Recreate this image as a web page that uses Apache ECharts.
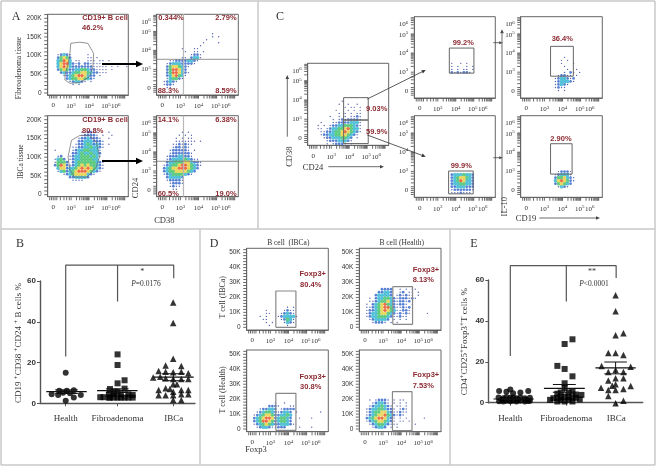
<!DOCTYPE html>
<html>
<head>
<meta charset="utf-8">
<title>B cell and Treg flow panels</title>
<script src="https://cdn.jsdelivr.net/npm/echarts@6/dist/echarts.min.js"></script>
<style>
    html, body { margin: 0; padding: 0; background: #fff; }
    #chart { width: 656px; height: 466px; }
</style>
</head>
<body>
<div id="chart"></div>
<script>
// density on a 27 x 27 cell raster, top row first
// . empty, 1 sparse, 2 blue, 3 cyan, 4 green, 5 yellow, 6 red
const densA1 = ['','','','','','','','','','','','','',
    '...12321.....1', '...24542.....11.1', '...34653.11..111.11.1', '...35663212.22111111.1.1', '...35653222222211111.1.1..1',
    '...24542233443221111.1', '....2322344554322111', '.....12345665322.1', '......2344554321', '.......123321.1', '........1.1'];
const densA2 = ['','','','','','','..................1','..................1.1','................1','...............1....1','..............1',
    '........1...11', '.........1..11.1', '...........1221', '........11.2331', '....1122223321', '...1233322221', '...24554321', '...2466532',
    '...24665321', '...2356431', '...134421', '..12321', '..1221', '...11'];
const densA3 = ['','','','','...............1', '...........1.2211...1', '...........122221.1..1', '..........12232221..1', '..........223332221',
    '.........1223432321.1', '........11223343321', '..1.....1233443331', '........2234334332', '...12..12334443431', '..1342.1233444433',
    '..14442.23444444321', '..24652123454544321', '...3552334565654321', '...134234566654321', '.....12345555321', '.......2233332', '........1111'];
const densA4 = ['','','','','','........1.1', '.......1.1.1', '......1.1.11', '......1111111.1', '.....1121211', '.....122121', '....1222221.1',
    '....12222221', '...122233221', '...12333343211', '...233444553221', '..1234456654321', '..234556665432', '..23445555432', '..1234444321',
    '...233332', '...122221', '....12221', '....1211', '.....11'];
const densC1 = ['','','','','','','','','','','','','...........1', '..........1..1..1', '............1.11.1', '.........1...1.1.1', '..........1.1.1.11',
    '.......1..1.1.1121', '........1.12122221', '....1...1122223331', '...1.1.12233444321', '...11.123344564331', '....11223445654321',
    '....1223344554321', '.....1223334432.1', '......122233321', '......1.12221.1'];
const densC2 = ['','','','','','','','','','','','','','','','............1..1.1', '............1.1..1.1', '............1.1.11.1', '............2121221'];
const densC3 = ['','','','','','','','','','','','','','','','','','','', '............23334332', '............23455432', '............23465332',
    '............23344332', '............22333222', '............12222221', '............1112111'];
const densC4 = ['','','','','','','','','','','','','','..............1', '.............1.1', '.............1...1', '..............1', '...............1..1',
    '..............1.21.1', '............12211.1', '...........1233212', '...........1233321', '...........12321', '...........1211', '............1.1'];
const densC5 = ['','','','','','','','','','','','','','','','','','', '............12221', '...........123331', '...........2445321', '...........3565421',
    '...........245432', '............1321'];
const densD1 = ['','','','','','','','','','','','','','','','','','','', '.............1.1', '......1.....1211', '......11...12321', '....1.1...1233331',
    '.....11....12431', '......1.1...1321', '.......1.....1'];
const densD2 = ['','','','','','','','','','','','','', '.......2222..1.1.11', '......22332..12.11.1', '.....233332.121211.1', '...1.23344321222121',
    '...11234453212212', '..1.234564321221.1', '..112345664211212', '..122345654311221', '..123345543212121.....1', '..12334443211211',
    '...1233332.1.1.1', '....12221.1.1'];
const densD3 = ['','','','','','','','','','','','','','','','','', '.........1..1', '.......2221...11', '....122332.12222', '...123443212332.1.......1',
    '..1234554223343', '..2345665234432..1...1', '..2346654234432', '..12345432233321', '...1233211222....1...1'];
const densD4 = ['','','','','','','','','','','','','','','','', '...1.12221.1.11', '....123321.1.1.1', '...12334321.11.1', '..1233443221.121', '..12344553211211',
    '..1234556432121', '..2345665321.1.1.....1', '..1234554321.11.1', '...1234432111.....1', '....12332.1.1'];

// gates and quadrant lines, in axis units: [xLeft, yLow, xRight, yHigh]
const gateA1 = [[2.98,133],[3.48,136],[3.94,133],[4.26,106],[4.22,70],[4.04,44],[3.48,28],[2.93,26],[2.65,35],[2.69,57],[2.83,75],[2.93,106],[2.98,133]];
const gateA3 = [[3.02,145],[3.48,158],[4.04,158],[4.41,141],[4.59,101],[4.41,74],[3.89,47],[3.2,47],[2.93,65],[2.83,101],[3.02,145]];
const rectC1a = [3.69,2.96,5.06,4.12];
const rectC1b = [3.69,1.74,5.06,2.96];
const rectC2 = [3.64,2.95,5.01,4.26];
const rectC3 = [3.60,1.83,4.97,3.02];
const rectC4 = [3.34,2.79,4.60,4.35];
const rectC5 = [3.34,2.86,4.53,4.44];
const rectD1 = [3.30,0,4.41,24.3];
const rectD2 = [3.54,2,4.63,27.2];
const rectD3 = [3.30,-0.9,4.41,23.9];
const rectD4 = [3.52,-1.1,4.60,25];
const quadA2 = [3.17,3.53];
const quadA4 = [3.17,3.51];

// biexponential tick stops and their labels
const biexStops = [2, 3, 4, 4.95, 5.5];
const biexLabels = ['0', '10{s|3}', '10{s|4}', '10{s|5}', '10{s|6}'];

// scatter panels: group names and per group points as [position, percent]
const groupNames = ['Health', 'Fibroadenoma', 'IBCa'];
const groupStopsB = [1, 1.96, 3];
const groupStopsE = [1, 2, 2.89];

const healthB = [[1,15],[1,1.3],[0.74,4.4],[0.86,4.1],[0.88,6.2],[1.02,6.2],[1.15,6.4],[1.08,4.9],[1.28,4.1],[1.15,2.8],[0.95,5.2]];
const fibroB = [[1.96,24],[1.96,18.8],[1.96,9.8],[2.09,11.3],[2.09,7.2],[1.82,7],[1.96,5.7],[1.89,5.7],[1.80,4.4],[1.89,4.4],[2.02,4.4],[2.16,4.4],[2.24,4.1],
    [1.64,3],[1.70,3],[1.80,2.8],[1.82,2.8],[1.89,2.8],[1.96,2.8],[2.02,2.8],[2.09,2.8],[2.16,2.8],[2.24,2.8]];
const ibcaB = [[2.99,49.4],[2.99,39.4],[2.99,21.9],[2.85,18.5],[3.14,18.3],[2.72,15.9],[3.27,14.7],[2.85,15.5],[2.99,15.2],[3.14,15.5],[2.75,13],[2.62,12.6],
    [2.85,12.3],[2.99,11.9],[3.14,11.9],[3.27,11.9],[2.99,9.3],[3.06,9.3],[2.93,7],[2.85,7.4],[2.72,6.5],[2.99,5.7],[3.14,6.5],[3.27,6.5],[2.72,4],[2.85,4],
    [2.99,4],[3.14,4.4],[3.27,4.4],[2.99,1.6],[3.14,1.6]];
const meanB = [[0.64,1.39,5.7,0.9],[1.58,2.33,6.2,0.9],[2.62,3.37,12.8,1.7]];  // xFrom, xTo, mean, sem

const healthE = [[0.80,5.7],[1,6.5],[0.93,5.4],[1.18,5],[1.32,5.7],[1.05,4.6],[0.79,2.5],[0.875,2.2],[0.93,2.8],[1,2.4],[1.05,2.6],[1.11,2.2],[1.18,2.6],[1.26,2.2],
    [1.35,2.4],[0.80,0.7],[0.875,0.6],[0.93,1],[1,0.7],[1.05,0.9],[1.11,0.6],[1.18,1],[1.26,0.6],[1.32,0.8],[1.35,1],[0.85,1.5],[0.97,1.5],[1.14,1.5],[1.28,1.5]];
const fibroE = [[2.11,31],[1.97,28.7],[1.84,18],[1.97,16.5],[2.11,12.9],[1.97,9.5],[2.11,5.4],[1.97,7.3],[1.90,5],[2.04,5],[1.84,4.4],[2.17,4],[2.27,3.8],[1.77,2.2],
    [1.84,2.4],[1.90,2.6],[1.97,3],[2.04,2.8],[2.11,2.4],[2.17,2.4],[1.71,1.4],[1.84,0.6],[1.97,0.6],[2.11,0.6],[1.90,1.4],[2.04,1.5],[2.24,1.6]];
const ibcaE = [[2.88,52.5],[2.88,44.7],[2.88,33],[3.02,34],[2.75,24.3],[2.88,24.3],[3.02,23.3],[2.63,18],[3.15,17.6],[2.88,16],[2.75,15],[3.02,15],[2.88,12],[3.02,12],
    [2.75,10.8],[2.88,9],[3.15,8.2],[2.62,7.3],[2.82,8.3],[2.75,6.2],[2.88,6.2],[3.02,6.7],[2.75,3.3],[3.02,1],[2.88,-0.3]];
const meanE = [[0.70,1.42,1.8,0.3],[1.60,2.33,7,1.9],[2.52,3.24,17,2.9]];

const bracketB = [[1,23],[1,67.8],[3.0,67.8],[3.0,61.3]];
const bracketMidB = [[1.96,67.8],[1.96,50]];
const bracketE = [[1,22.8],[1,67],[2.89,67],[2.89,61]];
const bracketMidE = [[2,67],[2,49.5]];

const levelColors = ['', '#2b3f9e', '#2f62c8', '#2fb4d0', '#3fc068', '#e6d040', '#e84a20'];
const levelSizes = [0, 1.4, 2.7, 3.7, 3.7, 3.7, 3.2];
const darkRed = '#8c2a32';
const serif = '"Liberation Serif", serif';
const sans = '"Liberation Sans", sans-serif';

const xRange = [1.69, 6.2];
const biexRange = [1.65, 5.9];
const bigK = [-5.4, 210.7, [0, 50, 100, 150, 200]];
const smallK = [-1.8, 52.9, [0, 10, 20, 30, 40, 50]];

const plots = [
    { box: [47.7, 14.3, 80.6, 80.7], dens: densA1, yScale: bigK, gate: gateA1 },
    { box: [156.7, 14.3, 81.6, 80.7], dens: densA2, quad: quadA2 },
    { box: [47.7, 115.7, 80.6, 81], dens: densA3, yScale: bigK, gate: gateA3 },
    { box: [156.7, 115.7, 81.6, 81], dens: densA4, quad: quadA4 },
    { box: [307.7, 63.3, 81, 82], dens: densC1, rects: [rectC1a, rectC1b] },
    { box: [414.3, 16.7, 81, 81.3], dens: densC2, rects: [rectC2] },
    { box: [414.3, 115.7, 81, 81.6], dens: densC3, rects: [rectC3] },
    { box: [520.7, 16.7, 81.6, 81.3], dens: densC4, rects: [rectC4] },
    { box: [520.7, 115.7, 81.6, 81.6], dens: densC5, rects: [rectC5] },
    { box: [246.7, 248.3, 81.6, 81.7], dens: densD1, yScale: smallK, rects: [rectD1] },
    { box: [359.3, 248.3, 81.7, 81.7], dens: densD2, yScale: smallK, rects: [rectD2] },
    { box: [246.7, 350, 81.6, 81.7], dens: densD3, yScale: smallK, rects: [rectD3] },
    { box: [359.3, 350, 81.7, 81.7], dens: densD4, yScale: smallK, rects: [rectD4] }
];

// FlowJo style tick marks, decades get their log minor ticks
const biexTicks = [1.8, 1.9, 2, 2.1, 2.2, 2.4, 2.6, 2.75, 2.9];
[3, 4, 5].forEach(d => {
    [1, 2, 3, 4, 5, 6, 7, 8, 9].forEach(k => biexTicks.push(d + Math.log10(k)));
});
biexTicks.push(6);

const grids = [];
const xAxes = [];
const yAxes = [];
const series = [];

const tickText = { fontFamily: serif, fontSize: 7, color: '#333', rich: { s: { fontSize: 5, verticalAlign: 'bottom', padding: [0, 0, 4, 0], fontFamily: serif, color: '#333' } } };
const frameLine = { show: true, onZero: false, lineStyle: { color: '#666', width: 1 } };

const biexFormat = v => biexLabels[biexStops.indexOf(v)] || '';

plots.forEach((p, i) => {
    grids.push({ left: p.box[0], top: p.box[1], width: p.box[2], height: p.box[3], show: true, borderColor: '#666', borderWidth: 1, backgroundColor: '#fff' });
    xAxes.push({
        gridIndex: i, type: 'value', min: xRange[0], max: xRange[1], splitLine: { show: false }, axisLine: frameLine,
        axisTick: { show: false },
        axisLabel: Object.assign({ margin: 7, customValues: biexStops, formatter: biexFormat, hideOverlap: false }, tickText)
    });
    let yMin = biexRange[0], yMax = biexRange[1], yTicks = biexTicks;
    let yLabel = Object.assign({ margin: 6, customValues: biexStops, formatter: biexFormat, hideOverlap: false }, tickText);
    if (p.yScale) {
        yMin = p.yScale[0];
        yMax = p.yScale[1];
        yTicks = [];
        const step = yMax > 100 ? 10 : 2;
        for (let t = 0; t <= yMax; t += step) yTicks.push(t);
        yLabel = { margin: 6, customValues: p.yScale[2], formatter: v => v ? v + 'K' : '0', fontFamily: sans, fontSize: 6.5, color: '#333', hideOverlap: false };
    }
    yAxes.push({
        gridIndex: i, type: 'value', min: yMin, max: yMax, splitLine: { show: false }, axisLine: frameLine,
        axisTick: { show: false },
        axisLabel: yLabel
    });

    // the dense axis ticks as thin marks just outside the frame
    series.push({
        type: 'scatter', xAxisIndex: i, yAxisIndex: i, silent: true, clip: false, symbol: 'rect',
        symbolSize: [1, 3], symbolOffset: [0, 2], itemStyle: { color: '#444' },
        data: biexTicks.filter(t => t >= xRange[0] && t <= xRange[1]).map(t => [t, yMin])
    });
    series.push({
        type: 'scatter', xAxisIndex: i, yAxisIndex: i, silent: true, clip: false, symbol: 'rect',
        symbolSize: [3, 1], symbolOffset: [-2, 0], itemStyle: { color: '#444' },
        data: yTicks.filter(t => t >= yMin && t <= yMax).map(t => [xRange[0], t])
    });

    // density raster -> scatter points in axis units
    const pts = [];
    p.dens.forEach((row, r) => {
        for (let c = 0; c < row.length; c++) {
            const lvl = Number(row[c]);
            if (!lvl) continue;
            pts.push([xRange[0] + (c + 0.5) / 27 * (xRange[1] - xRange[0]), yMax - (r + 0.5) / 27 * (yMax - yMin), lvl]);
        }
    });
    pts.sort((a, b) => a[2] - b[2]);
    series.push({
        type: 'scatter', xAxisIndex: i, yAxisIndex: i, data: pts, symbol: 'circle', silent: true,
        symbolSize: d => levelSizes[d[2]],
        itemStyle: { color: o => levelColors[o.data[2]] }
    });

    const outline = (data, color, width) => series.push({
        type: 'line', xAxisIndex: i, yAxisIndex: i, data: data, symbol: 'none', silent: true,
        lineStyle: { color: color, width: width }
    });
    if (p.gate) outline(p.gate, '#666', 0.7);
    if (p.rects) p.rects.forEach(b => {
        outline([[b[0], b[1]], [b[2], b[1]], [b[2], b[3]], [b[0], b[3]], [b[0], b[1]]], p.yScale ? '#888' : '#666', p.yScale ? 1.2 : 1);
    });
    if (p.quad) {
        outline([[p.quad[0], yMin], [p.quad[0], yMax]], '#b8b8b8', 1.2);
        outline([[xRange[0], p.quad[1]], [xRange[1], p.quad[1]]], '#777', 0.8);
    }
});

// the two dot plot panels
const addDotPanel = (box, xExt, stops, groups, means, bracket, bracketMid) => {
    const i = grids.length;
    grids.push({ left: box[0], top: box[1], width: box[2], height: box[3], show: false });
    xAxes.push({
        gridIndex: i, type: 'value', min: xExt[0], max: xExt[1], splitLine: { show: false },
        axisLine: { onZero: false, lineStyle: { color: '#555', width: 1.4 } },
        axisTick: { show: true, length: 3, lineStyle: { color: '#555' }, customValues: stops },
        axisLabel: { margin: 11, customValues: stops, formatter: v => groupNames[stops.indexOf(v)], fontFamily: serif, fontSize: 9, color: '#333', hideOverlap: false }
    });
    yAxes.push({
        gridIndex: i, type: 'value', min: 0, max: 60, interval: 20, splitLine: { show: false },
        axisLine: { show: true, lineStyle: { color: '#555', width: 1.4 } },
        axisTick: { show: true, length: 3, lineStyle: { color: '#555' } },
        axisLabel: { margin: 4, fontFamily: sans, fontWeight: 'bold', fontSize: 8, color: '#333' }
    });
    const shapes = ['circle', 'rect', 'triangle'];
    const sizes = [6, 6, 6.5];
    groups.forEach((g, k) => {
        series.push({ type: 'scatter', xAxisIndex: i, yAxisIndex: i, data: g, symbol: shapes[k], symbolSize: sizes[k], clip: false, silent: true, itemStyle: { color: '#000' } });
    });
    const stroke = (data, color, width) => series.push({
        type: 'line', xAxisIndex: i, yAxisIndex: i, data: data, symbol: 'none', clip: false, silent: true, lineStyle: { color: color, width: width }
    });
    means.forEach(m => {
        const mid = (m[0] + m[1]) / 2, cap = (m[1] - m[0]) * 0.28;
        stroke([[m[0], m[2]], [m[1], m[2]]], '#111', 1.2);
        stroke([[mid, m[2] - m[3]], [mid, m[2] + m[3]]], '#111', 1);
        stroke([[mid - cap, m[2] + m[3]], [mid + cap, m[2] + m[3]]], '#111', 1);
        stroke([[mid - cap, m[2] - m[3]], [mid + cap, m[2] - m[3]]], '#111', 1);
    });
    stroke(bracket, '#555', 1.2);
    stroke(bracketMid, '#555', 1.2);
};
addDotPanel([40, 281, 155, 122.3], [0.524, 3.394], groupStopsB, [healthB, fibroB, ibcaB], meanB, bracketB, bracketMidB);
addDotPanel([488.3, 280, 154.4, 122.7], [0.607, 3.364], groupStopsE, [healthE, fibroE, ibcaE], meanE, bracketE, bracketMidE);

// captions, gate percentages, frame and arrows
const graphics = [];
const label = (text, x, y, font, fill, opts) => graphics.push(Object.assign({
    type: 'text', x: x, y: y, z: 50, silent: true,
    style: Object.assign({ text: text, font: font, fill: fill, align: 'center', verticalAlign: 'middle' }, (opts && opts.style) || {})
}, opts && opts.rotation ? { rotation: opts.rotation } : {}));
const red = (text, x, y) => label(text, x, y, 'bold 7.5px ' + sans, darkRed);
const cap = (text, x, y, size) => label(text, x, y, (size || 8.5) + 'px ' + serif, '#333');
const capUp = (text, x, y, size, rich) => label(text, x, y, (size || 8.5) + 'px ' + serif, '#333', { rotation: Math.PI / 2, style: rich ? { rich: rich } : {} });

[['A', 16, 17], ['C', 280, 17], ['B', 20, 244], ['D', 214, 244], ['E', 474, 244]].forEach(t => cap(t[0], t[1], t[2], 12));

[['CD19+ B cell', 105, 18], ['46.2%', 92.7, 28.3], ['CD19+ B cell', 105, 120.3], ['80.8%', 92.7, 130.7],
 ['0.344%', 171, 18.3], ['2.79%', 226, 18.3], ['88.3%', 168.3, 91.3], ['8.59%', 226, 91.3],
 ['14.1%', 168.3, 120.3], ['6.38%', 226, 120.3], ['60.5%', 168.3, 193.7], ['19.0%', 226, 193.7],
 ['9.03%', 376.7, 109.3], ['59.9%', 376.7, 132], ['99.2%', 463.3, 42.7], ['99.9%', 461.3, 166], ['36.4%', 562.3, 39.3], ['2.90%', 561, 138.7],
 ['Foxp3+', 312.7, 274.3], ['80.4%', 310.7, 285], ['Foxp3+', 426, 270], ['8.13%', 423.3, 280],
 ['Foxp3+', 312.7, 376.7], ['30.8%', 310.7, 387], ['Foxp3+', 426, 375.3], ['7.53%', 423.3, 385.7]].forEach(t => red(t[0], t[1], t[2]));

capUp('Fibroadenoma tissue', 19, 68, 7.5);
capUp('IBCa tissue', 20.7, 161.7, 7.5);
capUp('CD24', 136, 188);
cap('CD38', 164.3, 220.7);
capUp('CD38', 289.3, 156.7);
cap('CD24', 313, 167.7);
capUp('IL-10', 504.3, 206.7);
cap('CD19', 526, 219);
cap('B cell  (IBCa)', 288.3, 243.3, 7.5);
cap('B cell (Health)', 401.7, 243.3, 7.5);
capUp('T cell (IBCa)', 222.7, 297.3, 8);
capUp('T cell (Health)', 222.7, 390, 8);
cap('Foxp3', 256, 450);

const supRich = { s: { font: '7px ' + serif, fill: '#333', verticalAlign: 'bottom', padding: [0, 0, 5, 0] } };
capUp('CD19 {s|+}CD38 {s|+}CD24 {s|+} B cells %', 18.3, 343, 9, supRich);
capUp('CD4{s|+}CD25{s|+}Foxp3{s|+}T cells %', 465, 341.7, 9, supRich);
cap('*', 142.3, 272.3, 8);
cap('**', 592, 272.3, 8);
const pRich = { i: { font: 'italic 7.5px ' + serif, fill: '#333' } };
label('{i|P}=0.0176', 146, 283.7, '7.5px ' + serif, '#333', { style: { rich: pRich } });
label('{i|P}<0.0001', 594, 283.7, '7.5px ' + serif, '#333', { style: { rich: pRich } });

const rule = (x1, y1, x2, y2) => graphics.push({ type: 'line', z: 1, silent: true, shape: { x1: x1, y1: y1, x2: x2, y2: y2 }, style: { stroke: '#c9c9c9', lineWidth: 1.5 } });
rule(1, 1, 655, 1); rule(1, 1, 1, 465); rule(655, 1, 655, 465); rule(1, 465, 655, 465);
rule(1, 229, 655, 229); rule(258, 1, 258, 229); rule(200, 229, 200, 465); rule(450, 229, 450, 465);

const arrow = (x1, y1, x2, y2, width, head, color) => {
    const a = Math.atan2(y2 - y1, x2 - x1);
    const bx = x2 - Math.cos(a) * head, by = y2 - Math.sin(a) * head;
    const nx = -Math.sin(a) * head * 0.45, ny = Math.cos(a) * head * 0.45;
    graphics.push({ type: 'line', z: 40, silent: true, shape: { x1: x1, y1: y1, x2: bx, y2: by }, style: { stroke: color, lineWidth: width } });
    graphics.push({ type: 'polygon', z: 40, silent: true, shape: { points: [[x2, y2], [bx + nx, by + ny], [bx - nx, by - ny]] }, style: { fill: color } });
};
arrow(102, 64, 143, 64, 2, 7, '#000');
arrow(102, 161, 143, 161, 2, 7, '#000');
arrow(367.3, 99, 425.7, 70, 0.8, 4, '#333');
arrow(367.3, 135, 425.7, 156.7, 0.8, 4, '#333');
arrow(287.3, 136.7, 287.3, 75, 0.8, 4, '#444');
arrow(328.3, 166.7, 384, 166.7, 0.8, 4, '#444');
arrow(493.3, 42.7, 502.7, 42.7, 0.8, 3.5, '#444');
arrow(493.3, 157.7, 502.7, 157.7, 0.8, 3.5, '#444');
arrow(502, 213, 502, 29.3, 0.8, 4, '#444');
arrow(539.3, 218, 600, 218, 0.8, 4, '#444');

const chart = echarts.init(document.getElementById('chart'), null, { renderer: 'canvas' });
chart.setOption({
    animation: false,
    backgroundColor: '#fff',
    tooltip: { show: false },
    grid: grids,
    xAxis: xAxes,
    yAxis: yAxes,
    series: series,
    graphic: graphics
});
</script>
</body>
</html>
